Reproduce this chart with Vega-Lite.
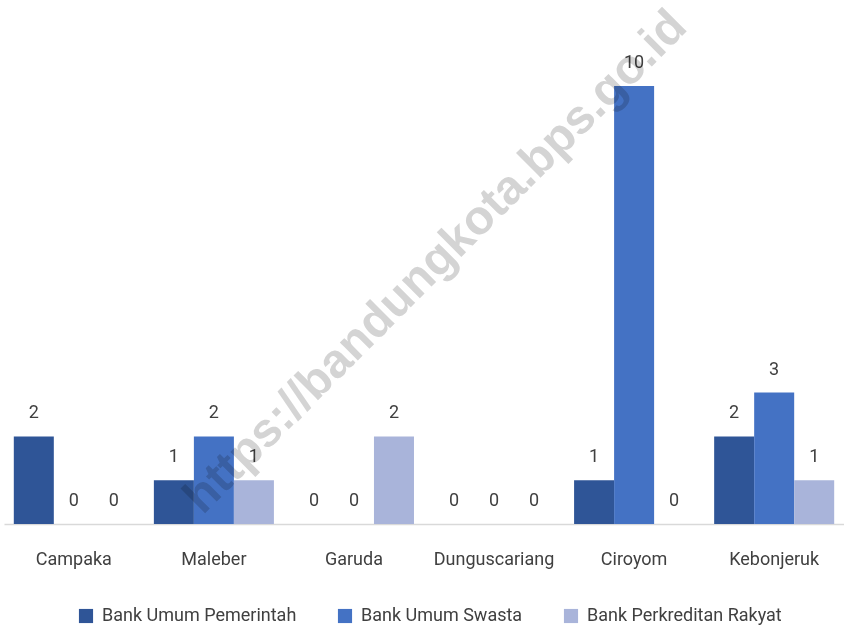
{
  "$schema": "https://vega.github.io/schema/vega-lite/v6.json",
  "width": 840,
  "height": 514,
  "autosize": {"type": "none"},
  "padding": {"left": 4, "top": 10, "right": 0, "bottom": 106},
  "background": "white",
  "config": {
    "view": {"stroke": null},
    "font": "Roboto"
  },
  "data": {
    "values": [
      {"kelurahan": "Campaka", "jenis": "Bank Umum Pemerintah", "jumlah": 2},
      {"kelurahan": "Campaka", "jenis": "Bank Umum Swasta", "jumlah": 0},
      {"kelurahan": "Campaka", "jenis": "Bank Perkreditan Rakyat", "jumlah": 0},
      {"kelurahan": "Maleber", "jenis": "Bank Umum Pemerintah", "jumlah": 1},
      {"kelurahan": "Maleber", "jenis": "Bank Umum Swasta", "jumlah": 2},
      {"kelurahan": "Maleber", "jenis": "Bank Perkreditan Rakyat", "jumlah": 1},
      {"kelurahan": "Garuda", "jenis": "Bank Umum Pemerintah", "jumlah": 0},
      {"kelurahan": "Garuda", "jenis": "Bank Umum Swasta", "jumlah": 0},
      {"kelurahan": "Garuda", "jenis": "Bank Perkreditan Rakyat", "jumlah": 2},
      {"kelurahan": "Dunguscariang", "jenis": "Bank Umum Pemerintah", "jumlah": 0},
      {"kelurahan": "Dunguscariang", "jenis": "Bank Umum Swasta", "jumlah": 0},
      {"kelurahan": "Dunguscariang", "jenis": "Bank Perkreditan Rakyat", "jumlah": 0},
      {"kelurahan": "Ciroyom", "jenis": "Bank Umum Pemerintah", "jumlah": 1},
      {"kelurahan": "Ciroyom", "jenis": "Bank Umum Swasta", "jumlah": 10},
      {"kelurahan": "Ciroyom", "jenis": "Bank Perkreditan Rakyat", "jumlah": 0},
      {"kelurahan": "Kebonjeruk", "jenis": "Bank Umum Pemerintah", "jumlah": 2},
      {"kelurahan": "Kebonjeruk", "jenis": "Bank Umum Swasta", "jumlah": 3},
      {"kelurahan": "Kebonjeruk", "jenis": "Bank Perkreditan Rakyat", "jumlah": 1}
    ]
  },
  "encoding": {
    "x": {
      "field": "kelurahan",
      "type": "nominal",
      "sort": null,
      "scale": {
        "domain": ["Campaka", "Maleber", "Garuda", "Dunguscariang", "Ciroyom", "Kebonjeruk"],
        "paddingInner": 0.143,
        "paddingOuter": 0.07
      },
      "axis": {
        "title": null,
        "labelAngle": 0,
        "ticks": false,
        "domainColor": "#d9d9d9",
        "domainWidth": 1.5,
        "labelFontSize": 18,
        "labelColor": "#404040",
        "labelPadding": 26
      }
    },
    "xOffset": {
      "field": "jenis",
      "type": "nominal",
      "sort": null,
      "scale": {"domain": ["Bank Umum Pemerintah", "Bank Umum Swasta", "Bank Perkreditan Rakyat"]}
    },
    "y": {
      "field": "jumlah",
      "type": "quantitative",
      "scale": {"domain": [0, 11.735], "nice": false},
      "axis": null
    }
  },
  "layer": [
    {
      "mark": {"type": "bar"},
      "encoding": {
        "color": {
          "field": "jenis",
          "type": "nominal",
          "sort": null,
          "scale": {
            "domain": ["Bank Umum Pemerintah", "Bank Umum Swasta", "Bank Perkreditan Rakyat"],
            "range": ["#2F5597", "#4472C4", "#A9B4DA"]
          },
          "legend": {
            "title": null,
            "orient": "none",
            "legendX": 73,
            "legendY": 597,
            "direction": "horizontal",
            "symbolType": "square",
            "symbolSize": 200,
            "symbolStrokeWidth": 0,
            "symbolOffset": 0,
            "labelFontSize": 18,
            "labelColor": "#404040",
            "labelLimit": 0,
            "labelOffset": 7,
            "columnPadding": 39
          }
        }
      }
    },
    {
      "mark": {"type": "text", "baseline": "bottom", "dy": -14, "fontSize": 18, "color": "#404040"},
      "encoding": {"text": {"field": "jumlah", "type": "quantitative"}}
    },
    {
      "data": {"values": [{"label": "https://bandungkota.bps.go.id", "posx": "Garuda", "posy": 5.94}]},
      "mark": {
        "type": "text",
        "angle": -45,
        "fontSize": 48,
        "fontWeight": "bold",
        "font": "Liberation Sans",
        "color": "#d4d4d4",
        "blend": "multiply",
        "align": "center",
        "baseline": "middle",
        "dx": 59,
        "dy": 57
      },
      "encoding": {
        "text": {"field": "label", "type": "nominal"},
        "x": {"field": "posx", "type": "nominal"},
        "y": {"field": "posy", "type": "quantitative"},
        "xOffset": null
      }
    }
  ]
}
